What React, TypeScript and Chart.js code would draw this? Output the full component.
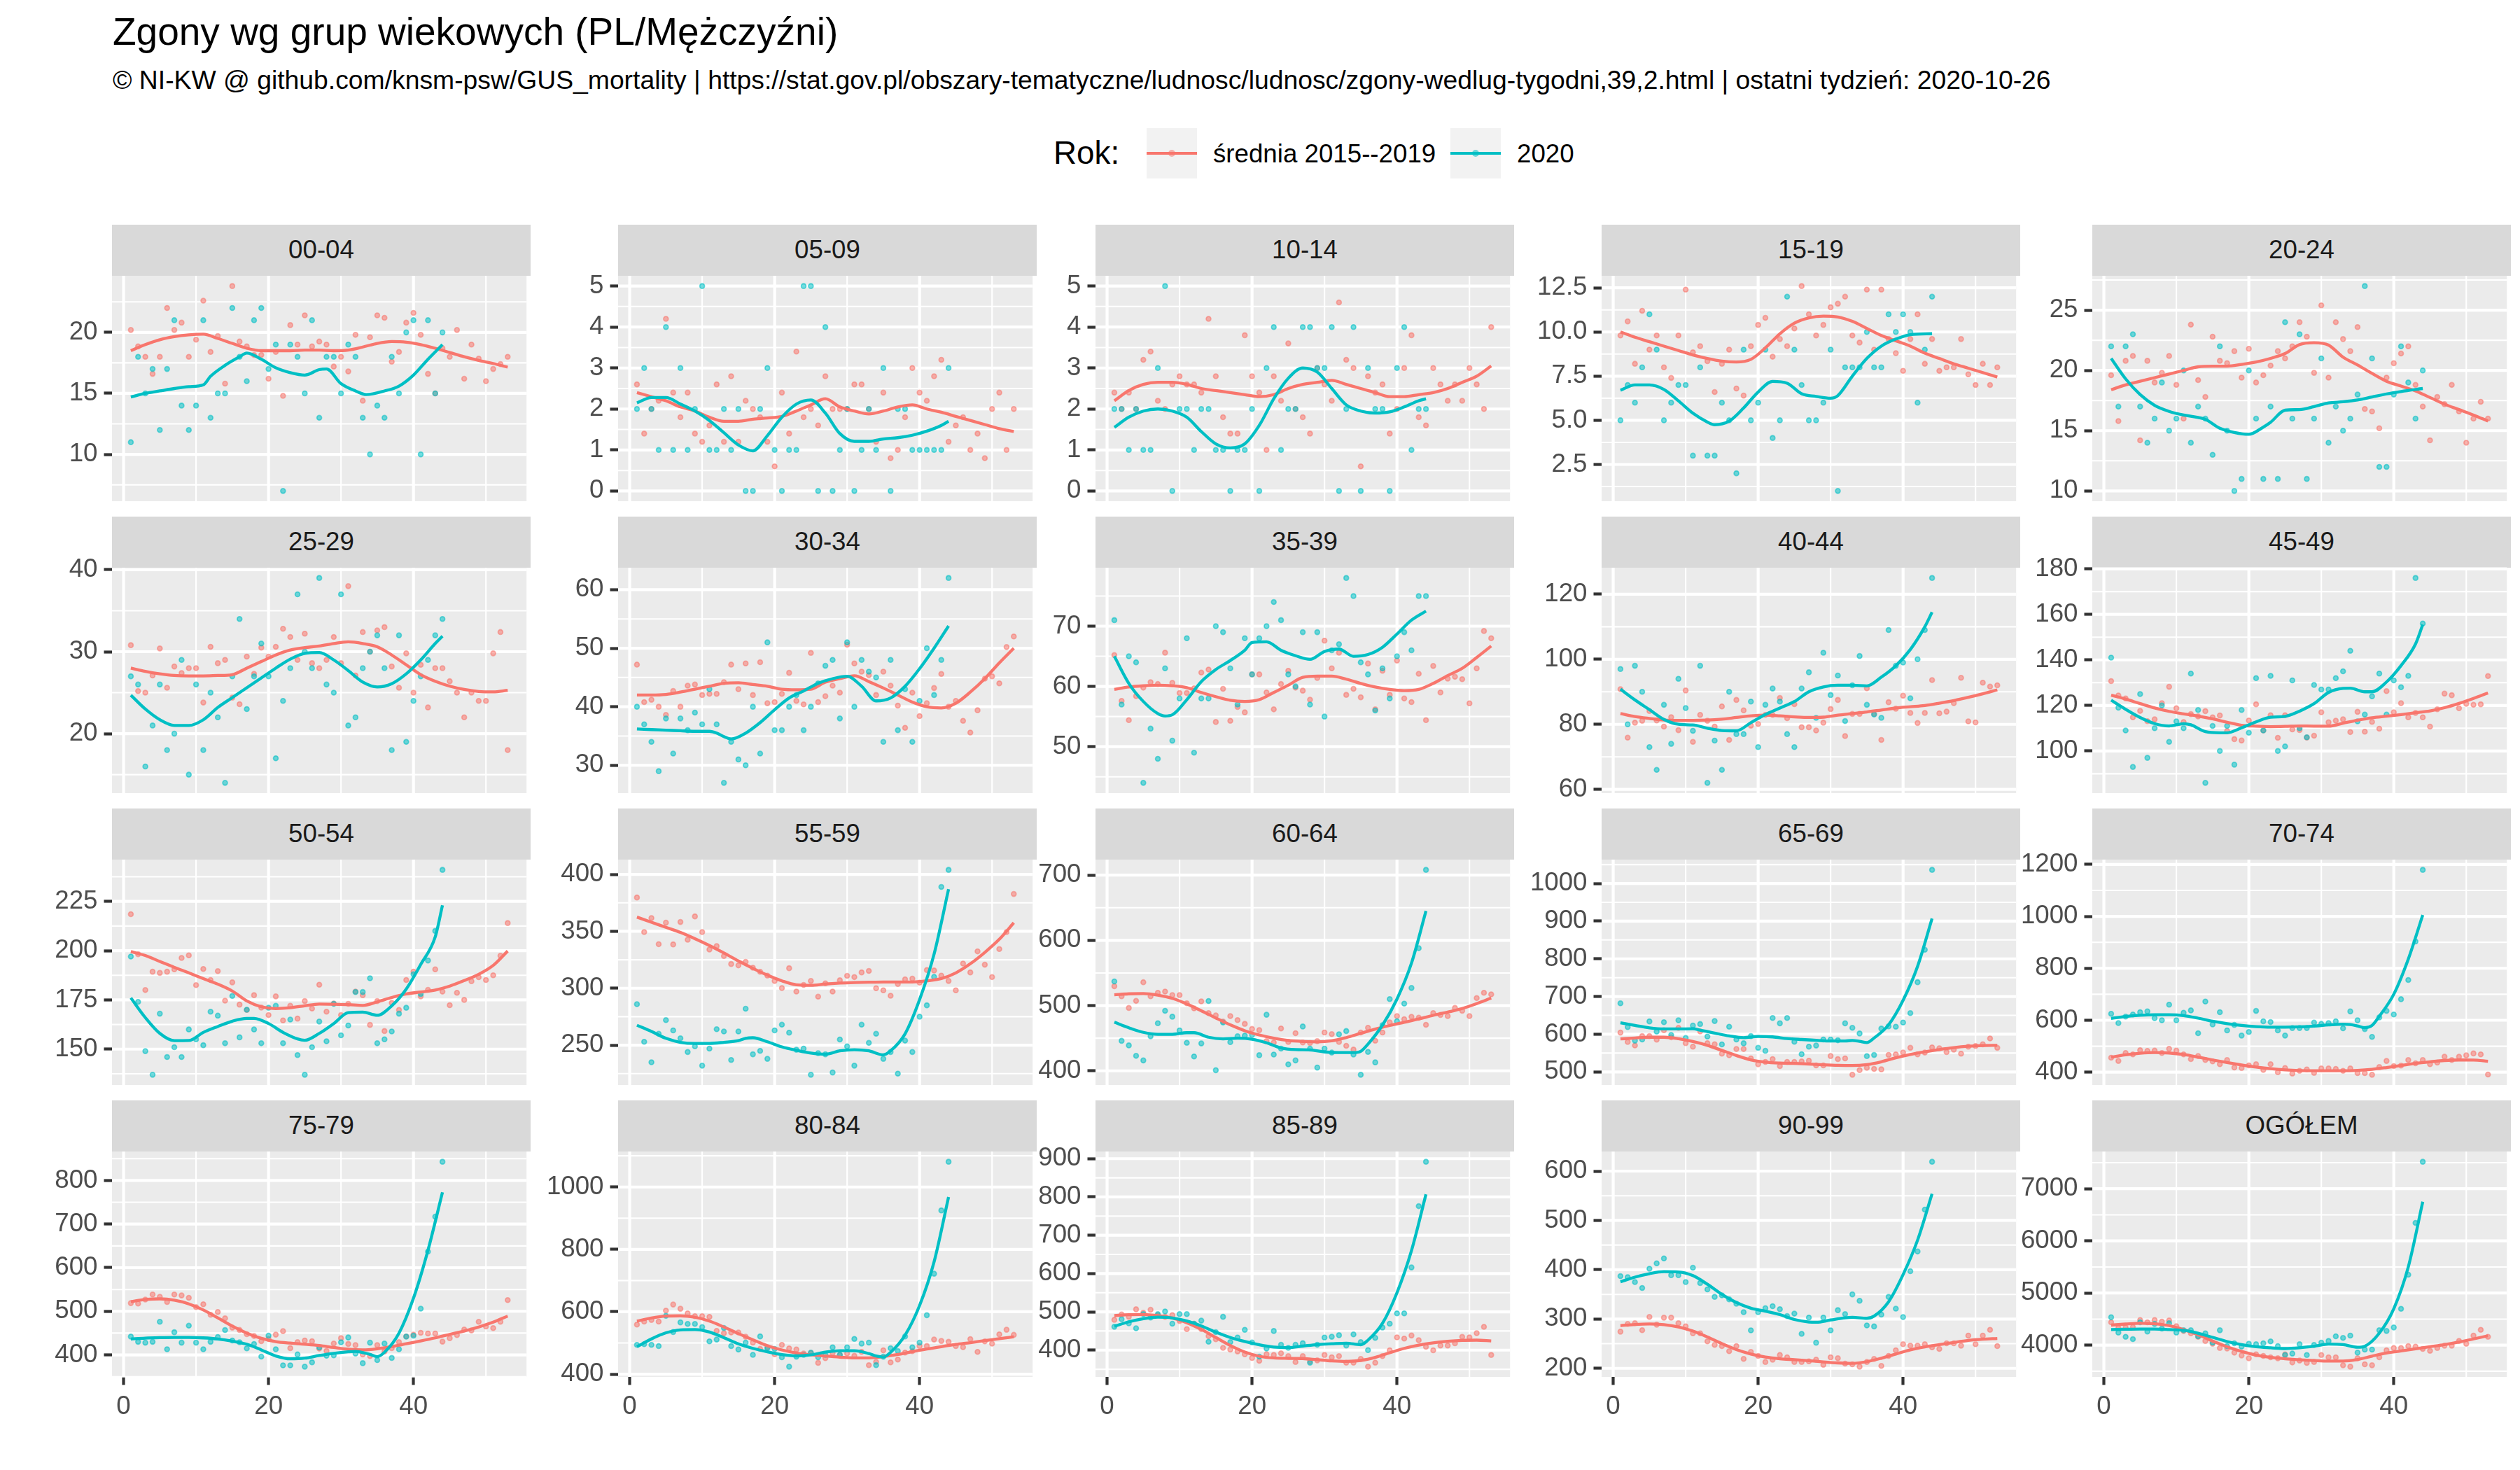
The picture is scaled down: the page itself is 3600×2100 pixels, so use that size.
import React, { useEffect, useRef } from 'react';
import { Chart, registerables } from 'chart.js';

Chart.register(...registerables);

// ---------------- DATA ----------------
const TITLE = 'Zgony wg grup wiekowych (PL/Mężczyźni)';
const SUBTITLE = '© NI-KW @ github.com/knsm-psw/GUS_mortality | https://stat.gov.pl/obszary-tematyczne/ludnosc/ludnosc/zgony-wedlug-tygodni,39,2.html | ostatni tydzień: 2020-10-26';
const LEGEND_TITLE = 'Rok:';
const SERIES_NAMES = ['średnia 2015--2019', '2020'];

const AGE_GROUPS = ['00-04', '05-09', '10-14', '15-19', '20-24', '25-29', '30-34', '35-39', '40-44', '45-49', '50-54', '55-59', '60-64', '65-69', '70-74', '75-79', '80-84', '85-89', '90-99', 'OGÓŁEM'];

const X_TICKS = [0, 20, 40];

const Y_TICK_LABELS: string[][] = [
  ['10', '15', '20'],
  ['0', '1', '2', '3', '4', '5'],
  ['0', '1', '2', '3', '4', '5'],
  ['2.5', '5.0', '7.5', '10.0', '12.5'],
  ['10', '15', '20', '25'],
  ['20', '30', '40'],
  ['30', '40', '50', '60'],
  ['50', '60', '70'],
  ['60', '80', '100', '120'],
  ['100', '120', '140', '160', '180'],
  ['150', '175', '200', '225'],
  ['250', '300', '350', '400'],
  ['400', '500', '600', '700'],
  ['500', '600', '700', '800', '900', '1000'],
  ['400', '600', '800', '1000', '1200'],
  ['400', '500', '600', '700', '800'],
  ['400', '600', '800', '1000'],
  ['400', '500', '600', '700', '800', '900'],
  ['200', '300', '400', '500', '600'],
  ['4000', '5000', '6000', '7000'],
];

// weekly deaths, average 2015-2019 (weeks 1..53)
const AVG_WEEKLY: number[][] = [
  [20.2, 18.85, 18.0, 16.6, 18.0, 22.0, 20.2, 20.8, 18.0, 19.4, 22.6, 18.4, 19.7, 15.8, 23.8, 19.25, 18.85, 18.15, 18.15, 16.2, 18.4, 14.8, 20.6, 19.0, 21.4, 18.85, 19.25, 19.0, 17.2, 18.0, 16.8, 19.8, 14.4, 19.6, 21.4, 21.2, 17.6, 18.4, 20.8, 21.6, 19.8, 16.6, 15.0, 18.7, 18.0, 20.2, 16.2, 19.0, 17.85, 16.0, 17.0, 17.4, 18.0],
  [2.6, 1.4, 2.0, 2.2, 4.2, 2.4, 1.8, 2.4, 1.4, 1.2, 1.6, 2.6, 1.2, 2.8, 1.2, 2.2, 2.0, 1.8, 1.2, 0.6, 2.4, 1.4, 3.4, 1.8, 2.0, 1.6, 2.8, 2.0, 2.0, 2.0, 2.6, 2.6, 2.0, 1.2, 2.4, 0.8, 1.0, 1.8, 3.0, 2.4, 2.2, 2.8, 3.2, 1.2, 1.6, 1.8, 1.0, 1.4, 0.8, 2.0, 2.4, 1.0, 2.0],
  [2.4, 2.0, 2.4, 2.0, 3.2, 3.4, 2.2, 2.0, 2.6, 2.8, 2.6, 2.6, 2.4, 4.2, 2.8, 1.8, 1.4, 1.4, 3.8, 2.8, 2.4, 1.0, 2.8, 2.2, 3.6, 2.0, 1.8, 1.4, 3.0, 2.6, 2.2, 4.6, 3.2, 3.0, 0.6, 2.8, 2.4, 2.6, 1.4, 2.0, 3.0, 3.8, 1.8, 1.6, 3.0, 2.6, 2.2, 2.6, 2.2, 3.0, 2.6, 2.0, 4.0],
  [9.8, 10.6, 8.2, 11.2, 9.0, 9.8, 8.0, 7.4, 9.8, 12.4, 8.85, 9.2, 8.35, 6.6, 8.2, 9.0, 6.8, 6.4, 9.2, 10.4, 10.8, 8.6, 9.6, 9.2, 10.2, 12.6, 11.0, 9.8, 10.4, 11.4, 11.6, 12.0, 9.8, 9.4, 12.4, 9.0, 12.4, 9.6, 8.8, 7.8, 9.6, 11.0, 8.2, 9.6, 7.8, 8.0, 8.0, 9.6, 7.6, 7.0, 8.2, 7.0, 8.0],
  [19.6, 15.8, 20.8, 21.2, 14.2, 20.8, 19.0, 19.8, 21.2, 18.8, 16.0, 23.8, 19.2, 17.8, 22.8, 20.8, 20.6, 21.6, 19.4, 21.8, 19.0, 19.6, 20.4, 21.6, 21.0, 22.0, 24.0, 22.8, 19.8, 25.4, 19.4, 24.0, 22.6, 21.6, 23.6, 16.8, 16.6, 15.2, 19.4, 20.6, 21.4, 22.0, 18.8, 17.0, 14.2, 17.8, 17.2, 18.8, 16.6, 14.0, 16.0, 17.4, 16.0],
  [30.8, 25.2, 25.0, 27.1, 30.4, 25.6, 28.2, 27.4, 28.0, 28.0, 23.8, 30.6, 28.6, 29.0, 24.4, 23.6, 29.4, 27.3, 30.5, 29.4, 30.6, 32.8, 31.8, 29.0, 32.2, 28.6, 28.0, 29.0, 31.8, 28.6, 38.0, 27.1, 32.4, 30.0, 32.6, 33.0, 28.2, 25.6, 29.8, 25.0, 28.4, 23.2, 28.0, 28.0, 26.4, 25.0, 22.0, 25.0, 24.0, 24.0, 29.8, 32.4, 18.0],
  [47.2, 40.8, 41.2, 40.0, 38.6, 42.7, 40.0, 43.6, 43.8, 42.0, 42.2, 42.2, 44.2, 47.2, 43.0, 47.4, 42.0, 47.6, 40.6, 40.8, 42.2, 45.8, 41.0, 40.4, 49.2, 40.8, 41.8, 43.6, 42.4, 50.6, 47.4, 46.0, 45.4, 42.0, 46.0, 43.6, 40.2, 36.4, 42.4, 38.4, 40.6, 43.2, 45.6, 40.0, 41.0, 37.6, 35.6, 39.4, 44.8, 45.2, 44.0, 50.2, 52.0],
  [65.2, 57.6, 54.4, 58.4, 59.8, 60.7, 60.4, 65.6, 60.6, 58.9, 58.9, 59.7, 62.3, 62.8, 54.1, 59.6, 54.3, 56.6, 55.7, 62.0, 62.0, 59.0, 56.2, 60.4, 62.6, 59.8, 59.3, 57.8, 61.4, 67.6, 63.0, 65.6, 58.6, 59.6, 58.2, 63.8, 56.2, 62.6, 58.6, 64.3, 58.0, 57.4, 62.1, 54.4, 63.4, 59.0, 61.3, 61.6, 61.2, 57.2, 63.0, 69.2, 68.0],
  [90.8, 75.9, 80.5, 81.1, 84.1, 81.2, 79.3, 82.2, 78.2, 90.4, 74.6, 82.9, 81.1, 79.3, 85.5, 75.2, 87.5, 84.3, 79.6, 80.1, 82.9, 82.9, 88.1, 81.9, 86.2, 79.1, 79.1, 78.1, 80.5, 84.7, 87.5, 76.4, 83.2, 83.2, 91.1, 83.2, 75.2, 86.8, 84.8, 88.8, 83.5, 80.4, 83.5, 93.6, 83.4, 83.9, 86.5, 94.3, 80.9, 80.6, 92.8, 91.6, 92.0],
  [130.7, 124.4, 123.1, 114.8, 117.6, 113.1, 113.9, 121.0, 128.2, 118.8, 112.7, 116.2, 115.2, 117.5, 114.8, 115.6, 108.8, 105.2, 104.6, 113.4, 120.5, 109.0, 115.7, 105.8, 115.7, 109.5, 109.2, 105.9, 106.7, 117.0, 112.6, 113.3, 113.9, 108.3, 117.2, 108.5, 112.8, 109.8, 126.3, 117.0, 121.0, 114.8, 116.7, 114.8, 110.7, 118.3, 125.2, 124.5, 118.8, 120.7, 120.3, 120.5, 132.9],
  [218.5, 198.2, 180.0, 189.3, 188.7, 189.3, 190.5, 196.3, 197.6, 182.5, 190.7, 185.1, 189.6, 174.6, 183.9, 172.6, 169.9, 177.4, 171.1, 167.3, 176.8, 164.6, 172.0, 165.5, 174.4, 170.6, 182.7, 169.0, 173.2, 167.3, 173.0, 179.2, 177.4, 162.3, 174.4, 159.2, 173.5, 169.9, 185.1, 189.3, 176.8, 180.1, 190.5, 179.2, 172.3, 178.6, 175.0, 184.5, 186.5, 185.1, 187.5, 197.4, 214.0],
  [379.7, 349.4, 361.7, 338.7, 357.6, 338.5, 358.2, 342.6, 363.1, 349.4, 334.0, 337.1, 328.3, 321.3, 320.1, 323.2, 318.0, 314.5, 311.1, 306.4, 300.2, 317.6, 297.1, 302.9, 306.4, 292.6, 304.3, 297.1, 307.0, 310.9, 309.8, 313.9, 315.2, 300.0, 298.2, 293.4, 303.7, 307.8, 308.4, 304.9, 316.0, 315.6, 311.1, 306.4, 298.2, 321.7, 313.9, 332.4, 320.7, 309.8, 334.4, 349.4, 382.8],
  [529.7, 514.3, 496.4, 507.2, 535.8, 514.3, 519.7, 521.5, 516.1, 516.1, 503.6, 495.7, 506.5, 488.5, 484.9, 475.6, 483.9, 477.8, 472.0, 464.2, 462.4, 445.5, 443.4, 464.9, 444.4, 457.7, 443.4, 442.7, 445.5, 458.8, 456.3, 444.4, 438.4, 432.6, 458.8, 466.0, 446.2, 458.8, 474.2, 483.9, 479.2, 482.8, 481.4, 470.6, 488.5, 485.7, 483.9, 496.4, 492.1, 483.9, 511.5, 519.7, 517.2],
  [604.4, 579.5, 570.2, 595.0, 595.0, 585.7, 610.6, 591.9, 616.8, 576.4, 567.1, 607.5, 576.4, 573.3, 548.4, 544.1, 560.8, 560.8, 536.0, 520.4, 526.7, 534.1, 515.5, 526.7, 526.7, 527.9, 529.8, 517.3, 517.3, 542.2, 534.1, 536.0, 492.5, 504.9, 511.1, 508.0, 506.8, 545.3, 546.6, 551.5, 564.0, 546.6, 551.5, 565.2, 562.7, 552.8, 559.0, 548.4, 567.1, 568.9, 573.3, 588.8, 564.0],
  [455.9, 443.3, 474.0, 468.5, 484.8, 482.1, 483.0, 474.0, 490.2, 483.0, 468.5, 450.5, 462.2, 446.9, 441.5, 430.7, 446.9, 418.0, 416.2, 426.2, 430.7, 409.0, 430.7, 400.0, 416.2, 394.6, 405.4, 410.8, 397.3, 414.4, 414.4, 412.6, 405.4, 414.4, 396.4, 396.4, 390.1, 419.8, 443.3, 423.4, 425.3, 446.9, 434.3, 446.9, 430.7, 437.0, 459.5, 446.9, 459.5, 464.9, 472.2, 468.5, 391.0],
  [518.7, 517.7, 526.8, 538.5, 533.2, 521.4, 538.5, 536.4, 531.0, 509.6, 516.1, 492.0, 498.4, 483.9, 462.5, 457.2, 447.5, 443.3, 431.5, 436.8, 446.5, 454.5, 415.5, 429.3, 433.1, 431.5, 414.4, 409.1, 426.1, 438.4, 425.1, 422.4, 401.0, 397.3, 422.4, 407.9, 415.5, 429.3, 442.2, 446.5, 450.7, 449.1, 449.1, 430.4, 438.4, 445.4, 458.2, 456.1, 475.9, 465.2, 461.5, 475.9, 525.7],
  [558.9, 568.6, 573.8, 568.6, 603.7, 623.2, 609.7, 594.8, 585.8, 585.8, 583.6, 538.7, 531.2, 533.5, 533.5, 520.0, 501.3, 481.1, 486.4, 463.9, 493.8, 482.6, 478.9, 466.2, 467.7, 436.3, 451.2, 467.7, 461.7, 466.2, 458.7, 471.4, 428.8, 439.3, 476.6, 437.8, 446.7, 469.2, 473.6, 490.1, 490.1, 511.0, 506.5, 503.6, 490.1, 486.4, 512.5, 471.4, 505.0, 497.6, 527.5, 542.4, 526.0],
  [479.2, 493.3, 487.1, 506.7, 497.6, 505.5, 491.4, 487.1, 491.4, 476.1, 454.7, 468.8, 454.7, 436.4, 428.4, 405.8, 401.5, 396.6, 389.2, 379.4, 372.1, 389.2, 387.4, 391.7, 384.3, 369.0, 384.3, 370.9, 373.3, 387.4, 381.3, 384.3, 367.2, 367.2, 377.0, 356.8, 367.2, 384.3, 399.6, 433.3, 430.2, 438.2, 426.0, 408.8, 399.6, 411.9, 411.9, 418.0, 434.5, 433.3, 444.3, 460.8, 387.4],
  [274.4, 290.1, 291.5, 277.3, 304.3, 288.6, 302.8, 302.8, 291.5, 285.3, 271.1, 271.1, 254.6, 247.5, 245.1, 234.7, 245.1, 219.1, 233.3, 225.2, 212.9, 217.6, 227.1, 222.4, 212.9, 212.9, 214.3, 217.6, 207.2, 222.4, 220.5, 209.6, 208.2, 203.4, 212.9, 219.1, 204.9, 225.2, 236.6, 248.9, 246.0, 246.0, 248.9, 242.7, 239.4, 250.8, 250.8, 246.0, 266.4, 248.9, 266.4, 278.2, 245.1],
  [4439, 4331, 4340, 4349, 4483, 4439, 4483, 4452, 4474, 4363, 4273, 4228, 4161, 4081, 4027, 3946, 3937, 3857, 3803, 3749, 3825, 3794, 3767, 3749, 3825, 3669, 3705, 3660, 3678, 3812, 3767, 3767, 3615, 3588, 3749, 3633, 3615, 3767, 3902, 3946, 3946, 3982, 3973, 3928, 3893, 3946, 3991, 3991, 4081, 4027, 4184, 4295, 4161],
];

// weekly deaths 2020 (weeks 1..44)
const Y2020_WEEKLY: number[][] = [
  [11, 18, 15, 17, 12, 17, 21, 14, 12, 14, 21, 13, 15, 15, 22, 18, 16, 21, 22, 17, 19, 7, 19, 18, 15, 21, 13, 18, 18, 15, 19, 18, 13, 10, 14, 13, 18, 15, 20, 21, 10, 21, 15, 20],
  [2, 3, 2, 1, 4, 1, 3, 1, 2, 5, 1, 1, 2, 1, 2, 0, 0, 2, 3, 1, 0, 1, 1, 5, 5, 0, 4, 0, 1, 2, 0, 1, 2, 1, 3, 0, 2, 2, 1, 1, 1, 1, 1, 3],
  [2, 2, 1, 2, 1, 1, 3, 5, 0, 2, 2, 1, 2, 2, 1, 1, 0, 1, 1, 2, 0, 3, 4, 1, 2, 2, 4, 4, 3, 3, 4, 0, 2, 4, 0, 3, 2, 2, 0, 3, 4, 1, 2, 2],
  [5, 7, 6, 8, 11, 9, 5, 6, 7, 7, 3, 8, 3, 3, 6, 5, 2, 9, 5, 6, 9, 4, 5, 12, 9, 7, 5, 5, 6, 9, 1, 8, 8, 8, 10, 8, 8, 11, 10, 11, 10, 6, 9, 12],
  [22, 17, 22, 23, 17, 14, 16, 19, 15, 16, 20, 14, 17, 16, 13, 22, 15, 10, 11, 20, 16, 11, 17, 11, 24, 16, 23, 11, 16, 21, 14, 17, 15, 16, 18, 27, 21, 12, 12, 18, 22, 19, 16, 20],
  [27, 26, 16, 21, 26, 18, 20, 29, 15, 26, 18, 25, 22, 14, 27, 34, 23, 27, 31, 27, 17, 24, 28, 37, 30, 28, 39, 26, 25, 37, 21, 22, 28, 30, 32, 28, 18, 32, 19, 24, 27, 29, 32, 34],
  [40, 37, 34, 29, 38, 32, 38, 36, 39, 37, 43, 37, 27, 34, 31, 30, 40, 32, 51, 36, 36, 40, 42, 36, 40, 44, 47, 48, 38, 51, 40, 48, 46, 45, 34, 48, 36, 43, 34, 41, 50, 42, 48, 62],
  [71, 57, 65, 64, 44, 53, 48, 63, 51, 58, 68, 49, 58, 58, 70, 69, 63, 57, 68, 62, 68, 70, 74, 71, 62, 60, 69, 57, 69, 55, 66, 67, 78, 75, 64, 62, 56, 63, 58, 65, 69, 66, 75, 75],
  [97, 80, 98, 90, 73, 66, 86, 74, 94, 85, 78, 98, 62, 75, 66, 90, 77, 77, 87, 73, 86, 91, 87, 77, 73, 91, 96, 82, 102, 89, 95, 81, 92, 101, 86, 83, 82, 109, 98, 99, 88, 100, 109, 125],
  [141, 119, 109, 93, 125, 97, 110, 120, 104, 113, 110, 134, 118, 86, 111, 100, 111, 94, 118, 108, 132, 109, 133, 100, 102, 131, 110, 106, 129, 127, 127, 132, 135, 144, 113, 116, 124, 134, 116, 131, 128, 133, 176, 156],
  [197, 174, 149, 137, 168, 146, 151, 146, 160, 155, 152, 169, 167, 153, 177, 156, 170, 160, 153, 171, 172, 153, 165, 147, 137, 151, 164, 154, 173, 157, 162, 179, 179, 186, 153, 155, 159, 168, 171, 188, 178, 195, 210, 241],
  [286, 253, 235, 260, 272, 263, 256, 244, 249, 232, 247, 264, 262, 237, 262, 282, 242, 245, 238, 263, 268, 261, 246, 247, 224, 243, 242, 226, 255, 249, 232, 268, 252, 260, 238, 244, 225, 254, 244, 275, 285, 310, 389, 404],
  [537, 446, 439, 423, 416, 453, 473, 492, 483, 462, 443, 422, 442, 507, 401, 474, 444, 453, 454, 455, 424, 486, 425, 434, 410, 416, 468, 434, 405, 434, 428, 456, 461, 425, 394, 429, 413, 470, 510, 476, 503, 527, 588, 708],
  [682, 619, 583, 586, 634, 607, 632, 598, 637, 590, 623, 627, 594, 635, 573, 620, 586, 576, 595, 564, 556, 643, 629, 643, 580, 547, 567, 570, 586, 586, 584, 629, 617, 602, 542, 545, 615, 621, 620, 631, 656, 738, 824, 1036],
  [625, 589, 614, 622, 631, 634, 608, 600, 660, 600, 629, 638, 550, 672, 584, 631, 561, 582, 541, 555, 636, 596, 593, 561, 541, 570, 570, 570, 591, 586, 589, 596, 569, 634, 600, 566, 536, 611, 636, 622, 681, 755, 903, 1179],
  [442, 430, 428, 430, 476, 413, 452, 428, 467, 428, 413, 430, 441, 457, 433, 429, 415, 425, 396, 444, 413, 376, 376, 401, 373, 383, 417, 398, 399, 429, 440, 403, 381, 428, 388, 426, 393, 413, 442, 444, 506, 637, 717, 843],
  [494, 496, 494, 490, 587, 535, 566, 561, 561, 551, 505, 511, 548, 490, 479, 501, 462, 521, 483, 481, 454, 424, 456, 462, 469, 454, 462, 486, 462, 486, 513, 498, 501, 429, 456, 483, 474, 521, 486, 501, 589, 722, 925, 1081],
  [461, 481, 470, 457, 494, 485, 494, 501, 469, 494, 494, 469, 477, 422, 447, 487, 421, 433, 453, 420, 383, 404, 450, 414, 406, 414, 418, 367, 414, 433, 435, 439, 412, 441, 421, 400, 432, 459, 469, 496, 496, 616, 776, 892],
  [387, 385, 375, 363, 402, 413, 423, 389, 389, 375, 404, 373, 360, 345, 348, 340, 331, 314, 277, 314, 322, 326, 320, 306, 311, 270, 303, 252, 303, 277, 318, 310, 350, 337, 287, 285, 309, 345, 321, 304, 397, 437, 522, 619],
  [4537, 4242, 4161, 4116, 4439, 4260, 4407, 4318, 4421, 4242, 4286, 4286, 4170, 4228, 4049, 4286, 3982, 4036, 3973, 4027, 4018, 4036, 4072, 3982, 3812, 3839, 4018, 3812, 4004, 4049, 4081, 4170, 4139, 4184, 3857, 3915, 3915, 4286, 4273, 4340, 4698, 5352, 6346, 7518],
];

// smoothed trend of the 2015-2019 average, read at odd weeks
const SMOOTH_AVG_WEEKS = [1, 3, 5, 7, 9, 11, 13, 15, 17, 19, 21, 23, 25, 27, 29, 31, 33, 35, 37, 39, 41, 43, 45, 47, 49, 51, 53];
const SMOOTH_AVG: number[][] = [
  [18.5, 19.0, 19.4, 19.65, 19.8, 19.85, 19.5, 19.1, 18.7, 18.5, 18.5, 18.5, 18.55, 18.55, 18.5, 18.55, 18.8, 19.1, 19.25, 19.2, 19.0, 18.7, 18.35, 18.0, 17.7, 17.45, 17.15],
  [2.4, 2.3, 2.2, 2.05, 1.95, 1.8, 1.7, 1.7, 1.75, 1.78, 1.82, 1.95, 2.1, 2.25, 2.05, 1.95, 1.88, 1.95, 2.05, 2.1, 2.0, 1.92, 1.82, 1.72, 1.62, 1.52, 1.45],
  [2.2, 2.45, 2.6, 2.65, 2.65, 2.6, 2.5, 2.45, 2.4, 2.35, 2.3, 2.35, 2.5, 2.6, 2.65, 2.7, 2.6, 2.5, 2.4, 2.3, 2.3, 2.35, 2.4, 2.5, 2.65, 2.8, 3.05],
  [10.0, 9.7, 9.45, 9.2, 8.95, 8.7, 8.5, 8.35, 8.3, 8.45, 9.1, 9.9, 10.5, 10.8, 10.9, 10.85, 10.6, 10.2, 9.8, 9.5, 9.2, 8.8, 8.5, 8.2, 7.95, 7.7, 7.45],
  [18.4, 18.8, 19.1, 19.4, 19.7, 20.0, 20.3, 20.35, 20.35, 20.5, 20.7, 21.0, 21.4, 22.15, 22.3, 22.1, 21.1, 20.45, 19.75, 19.1, 18.7, 18.3, 17.75, 17.2, 16.75, 16.3, 15.8],
  [28.0, 27.6, 27.3, 27.1, 27.05, 27.05, 27.1, 27.2, 28.0, 28.8, 29.6, 30.2, 30.5, 30.7, 31.0, 31.2, 31.0, 30.6, 29.6, 28.4, 27.2, 26.4, 25.8, 25.4, 25.15, 25.1, 25.3],
  [42.0, 42.0, 42.1, 42.5, 43.0, 43.5, 44.0, 44.1, 43.8, 43.5, 43.0, 42.9, 43.0, 44.2, 44.8, 45.3, 44.3, 43.2, 42.0, 40.8, 40.0, 39.8, 40.6, 42.5, 44.8, 47.5, 50.0],
  [59.5, 59.9, 60.1, 60.2, 60.1, 59.8, 59.0, 58.3, 57.7, 57.5, 57.8, 59.0, 60.2, 61.5, 61.7, 61.7, 61.2, 60.5, 59.9, 59.5, 59.3, 59.5, 60.5, 61.8, 63.0, 64.8, 66.7],
  [83.3, 82.4, 81.8, 81.3, 81.2, 81.2, 81.3, 81.6, 82.1, 82.6, 82.8, 82.6, 82.3, 82.1, 82.2, 82.8, 83.3, 83.8, 84.4, 85.0, 85.4, 85.8, 86.5, 87.3, 88.3, 89.4, 90.6],
  [124.5, 122.8, 120.8, 118.9, 117.4, 116.3, 115.3, 114.1, 112.6, 111.3, 110.9, 110.7, 110.8, 111.0, 110.9, 110.9, 112.2, 113.5, 114.6, 115.3, 116.0, 116.8, 117.6, 119.0, 120.9, 123.1, 125.5],
  [199.5, 197.5, 194.5, 191.5, 188.7, 185.8, 183.0, 179.5, 174.5, 171.5, 170.6, 171.0, 172.0, 172.9, 172.8, 172.6, 172.2, 174.0, 176.2, 178.0, 179.0, 180.0, 182.0, 184.8, 188.0, 192.5, 199.8],
  [362.5, 358.0, 353.5, 349.0, 343.5, 337.5, 331.0, 324.0, 317.5, 311.5, 306.5, 303.0, 302.5, 303.7, 304.5, 305.0, 305.3, 305.5, 305.5, 305.5, 306.5, 308.5, 313.5, 321.5, 331.5, 343.0, 357.5],
  [516.5, 518.0, 518.5, 516.0, 511.0, 502.5, 492.0, 481.0, 470.5, 461.5, 455.0, 450.0, 446.5, 445.0, 444.5, 446.0, 451.0, 457.5, 464.0, 469.5, 474.5, 479.5, 485.0, 490.0, 495.5, 503.0, 511.5],
  [587.5, 590.0, 592.0, 592.0, 588.0, 580.5, 570.5, 557.0, 543.5, 532.0, 526.0, 523.5, 522.5, 521.0, 519.0, 517.5, 517.0, 519.5, 527.0, 537.5, 546.5, 553.5, 559.5, 564.5, 568.0, 570.0, 570.5],
  [458.0, 467.0, 473.0, 475.5, 474.0, 468.0, 458.0, 447.0, 437.0, 428.0, 420.0, 413.5, 409.0, 406.5, 405.5, 405.5, 405.5, 407.0, 411.0, 418.0, 426.0, 434.0, 440.0, 445.0, 447.0, 446.5, 442.0],
  [522.0, 527.0, 528.5, 525.5, 517.0, 503.0, 485.0, 466.0, 450.0, 438.0, 430.5, 427.0, 424.5, 421.5, 417.0, 413.0, 411.5, 414.0, 419.0, 425.5, 432.0, 439.0, 447.0, 455.0, 464.0, 475.0, 489.0],
  [570.0, 580.0, 586.0, 587.0, 582.5, 570.0, 551.0, 530.0, 510.0, 491.0, 477.5, 468.0, 462.0, 458.0, 454.5, 452.0, 452.0, 456.0, 463.0, 472.0, 480.5, 488.0, 495.0, 501.0, 507.5, 513.5, 520.0],
  [490.0, 492.5, 493.0, 490.0, 484.0, 471.5, 454.0, 433.0, 412.0, 395.0, 384.0, 379.5, 378.5, 378.0, 375.0, 372.0, 370.5, 373.0, 381.0, 393.0, 404.5, 413.0, 419.0, 423.0, 425.5, 426.0, 424.0],
  [286.5, 289.0, 290.0, 288.5, 284.0, 275.5, 263.5, 250.0, 238.0, 229.0, 223.0, 219.5, 217.5, 215.5, 213.0, 211.0, 210.0, 213.5, 220.5, 229.0, 237.5, 243.5, 248.0, 252.5, 256.5, 259.0, 260.5],
  [4385, 4405, 4420, 4410, 4375, 4300, 4200, 4080, 3970, 3880, 3810, 3765, 3740, 3720, 3705, 3695, 3695, 3725, 3790, 3850, 3890, 3930, 3970, 4010, 4060, 4120, 4180],
];

// smoothed trend of 2020 as [week, value] pairs
const SMOOTH_2020: number[][][] = [
  [[1, 14.7], [3, 15.0], [5, 15.2], [7, 15.4], [9, 15.55], [11, 15.7], [12, 16.4], [14, 17.3], [16, 18.0], [17, 18.3], [19, 17.8], [21, 17.1], [23, 16.7], [25, 16.5], [27, 16.95], [28, 17.0], [30, 15.8], [32, 15.2], [33.5, 14.9], [36, 15.2], [38, 15.6], [40, 16.5], [42, 17.8], [44, 19.0]],
  [[1, 2.15], [3, 2.28], [5, 2.28], [7, 2.12], [9, 1.95], [11, 1.72], [13, 1.42], [15, 1.12], [17, 0.98], [19, 1.35], [21, 1.8], [23, 2.12], [25, 2.22], [27, 1.9], [29, 1.4], [31, 1.21], [33, 1.21], [35, 1.27], [37, 1.3], [39, 1.36], [41, 1.46], [43, 1.6], [44, 1.7]],
  [[1, 1.55], [3, 1.8], [5, 1.95], [7, 2.0], [9, 1.95], [11, 1.8], [13, 1.45], [15, 1.15], [17, 1.05], [19, 1.15], [21, 1.6], [23, 2.25], [25, 2.75], [27, 3.0], [29, 2.9], [31, 2.5], [33, 2.1], [35, 1.95], [37, 1.9], [39, 1.93], [41, 2.05], [43, 2.2], [44, 2.25]],
  [[1, 6.7], [3, 7.0], [5, 7.0], [7, 6.75], [9, 6.1], [11, 5.4], [13, 4.9], [14, 4.75], [16, 4.95], [18, 5.7], [20, 6.6], [22, 7.2], [24, 7.1], [26, 6.5], [28, 6.35], [30, 6.25], [31, 6.4], [33, 7.5], [35, 8.5], [37, 9.2], [39, 9.6], [41, 9.85], [44, 9.9]],
  [[1, 21.0], [3, 19.3], [5, 18.0], [7, 17.1], [9, 16.6], [11, 16.3], [13, 16.1], [14, 15.95], [16, 15.2], [18, 14.85], [20, 14.7], [22, 15.3], [23, 15.7], [25, 16.7], [27, 16.75], [29, 17.0], [31, 17.3], [33, 17.4], [35, 17.55], [37, 17.8], [39, 18.05], [41, 18.25], [44, 18.5]],
  [[1, 24.7], [3, 23.0], [5, 21.7], [7, 21.0], [9, 21.0], [11, 21.7], [13, 23.2], [15, 24.4], [17, 25.6], [19, 26.8], [21, 28.0], [23, 29.1], [25, 29.8], [27, 29.9], [29, 29.0], [31, 27.7], [33, 26.3], [35, 25.7], [37, 26.1], [39, 27.3], [41, 29.0], [43, 31.0], [44, 31.9]],
  [[1, 36.2], [3, 36.1], [5, 36.0], [7, 35.9], [9, 35.8], [11, 35.8], [12, 35.5], [13, 34.9], [14, 34.5], [16, 35.5], [18, 37.3], [20, 39.5], [22, 41.5], [24, 42.7], [26, 44.0], [28, 44.8], [30, 45.2], [32, 43.5], [34, 41.0], [36, 41.5], [38, 43.5], [40, 46.5], [42, 50.0], [44, 53.8]],
  [[1, 65.0], [3, 60.5], [5, 57.5], [7, 55.5], [8, 55.1], [9, 55.3], [11, 57.8], [13, 60.8], [15, 62.8], [17, 64.3], [19, 66.0], [20, 67.3], [22, 67.4], [24, 66.0], [26, 65.1], [28, 64.5], [30, 65.8], [32, 66.2], [34, 65.0], [36, 65.3], [38, 66.5], [40, 68.7], [42, 71.0], [44, 72.5]],
  [[1, 90.8], [3, 87.5], [5, 84.5], [7, 81.5], [9, 80.0], [11, 79.8], [13, 78.8], [15, 78.1], [17, 78.0], [19, 80.5], [21, 83.0], [23, 85.0], [25, 87.0], [27, 90.0], [29, 91.5], [31, 92.0], [33, 92.0], [35, 91.8], [37, 94.5], [39, 98.0], [41, 103.0], [43, 110.0], [44, 114.5]],
  [[1, 122.3], [3, 118.3], [5, 114.7], [7, 112.0], [9, 111.0], [11, 112.0], [12, 111.5], [14, 108.5], [16, 108.0], [17, 108.0], [19, 110.2], [21, 112.8], [23, 114.8], [25, 115.2], [27, 117.5], [29, 120.8], [31, 125.7], [33, 127.5], [34, 127.6], [36, 126.0], [37, 126.0], [39, 130.3], [41, 137.5], [43, 147.0], [44, 155.5]],
  [[1, 176.0], [3, 166.0], [5, 158.0], [7, 154.3], [9, 154.4], [11, 158.5], [13, 161.5], [15, 164.2], [17, 165.6], [18, 165.6], [20, 163.0], [22, 158.5], [24, 155.2], [25, 154.5], [27, 158.0], [29, 163.0], [31, 168.5], [33, 168.8], [35, 167.2], [37, 172.0], [39, 180.5], [41, 193.0], [43, 207.0], [44, 223.0]],
  [[1, 267.5], [3, 262.0], [5, 256.0], [7, 252.5], [9, 251.5], [11, 251.5], [13, 252.5], [15, 254.0], [16, 256.0], [17, 256.5], [19, 253.0], [21, 248.5], [23, 245.5], [25, 243.0], [27, 242.0], [29, 245.0], [31, 246.0], [33, 245.0], [35, 241.5], [36, 245.0], [38, 260.0], [40, 290.0], [42, 330.0], [44, 387.0]],
  [[1, 474.5], [3, 466.0], [5, 459.0], [7, 456.0], [9, 456.0], [11, 458.5], [12, 458.5], [14, 451.5], [16, 449.0], [18, 450.0], [20, 448.5], [22, 443.0], [24, 435.0], [26, 432.5], [28, 432.0], [30, 429.0], [32, 428.0], [34, 428.0], [35, 430.0], [36, 441.0], [38, 470.0], [40, 510.0], [42, 565.0], [44, 645.0]],
  [[1, 630.5], [3, 623.5], [5, 617.0], [7, 614.0], [9, 614.0], [11, 614.5], [12, 611.0], [14, 603.0], [16, 595.5], [18, 591.0], [20, 594.0], [22, 593.0], [24, 588.5], [26, 586.0], [28, 584.0], [30, 582.0], [32, 582.0], [33, 583.5], [34, 581.0], [35, 578.0], [36, 590.0], [38, 625.0], [40, 690.0], [42, 780.0], [44, 907.0]],
  [[1, 607.0], [3, 614.5], [5, 619.0], [7, 621.0], [9, 621.0], [11, 618.0], [13, 608.0], [15, 596.0], [17, 587.0], [19, 580.0], [21, 575.5], [23, 573.5], [25, 573.5], [27, 574.5], [29, 577.5], [31, 582.0], [33, 585.0], [34, 583.5], [35, 578.0], [36, 571.0], [37, 580.0], [38, 615.0], [40, 700.0], [42, 835.0], [44, 1005.0]],
  [[1, 436.5], [3, 438.5], [5, 439.5], [7, 440.0], [9, 440.0], [11, 439.0], [13, 436.5], [15, 431.5], [17, 424.5], [19, 411.5], [21, 397.5], [23, 391.0], [25, 392.5], [27, 398.5], [29, 403.5], [31, 407.0], [32, 408.0], [34, 401.0], [35, 396.0], [36, 406.0], [38, 450.0], [40, 530.0], [42, 640.0], [44, 773.0]],
  [[1, 488.0], [3, 513.0], [5, 532.5], [7, 542.0], [9, 543.0], [11, 535.0], [13, 517.0], [15, 497.0], [17, 482.5], [19, 471.5], [21, 462.5], [23, 458.5], [25, 462.0], [27, 470.5], [29, 475.0], [31, 475.0], [33, 466.0], [34, 458.0], [35, 455.0], [36, 470.0], [38, 525.0], [40, 620.0], [42, 760.0], [44, 968.0]],
  [[1, 462.0], [3, 474.0], [5, 482.0], [7, 486.0], [9, 484.0], [11, 476.0], [13, 463.0], [15, 447.0], [17, 433.0], [19, 422.5], [21, 414.0], [23, 408.0], [25, 406.5], [27, 410.5], [29, 414.5], [31, 416.5], [33, 418.0], [35, 414.0], [36, 426.0], [38, 470.0], [40, 550.0], [42, 660.0], [44, 807.0]],
  [[1, 375.5], [3, 385.0], [5, 392.0], [7, 396.0], [9, 395.5], [11, 388.0], [13, 370.5], [15, 350.0], [17, 333.5], [19, 322.0], [21, 316.0], [23, 309.0], [25, 299.0], [27, 294.0], [28, 293.5], [30, 298.0], [32, 302.5], [33, 303.5], [35, 301.5], [36, 306.0], [38, 335.0], [40, 390.0], [42, 460.0], [44, 554.0]],
  [[1, 4300], [3, 4305], [5, 4310], [7, 4310], [9, 4300], [11, 4285], [13, 4230], [15, 4150], [17, 4070], [19, 4010], [21, 3970], [23, 3950], [25, 3935], [27, 3950], [29, 3980], [31, 4020], [33, 4010], [35, 3960], [36, 3980], [38, 4230], [40, 4700], [42, 5500], [44, 6750]],
];

// ---------------- STYLE / LAYOUT ----------------
const FONT = '"Liberation Sans", Arial, Helvetica, sans-serif';
const RED = '#F8766D';
const CYAN = '#00BFC4';
const RED_PT = 'rgba(248,118,109,0.55)';
const CYAN_PT = 'rgba(0,191,196,0.55)';
const PANEL_BG = '#EBEBEB';
const STRIP_BG = '#D9D9D9';
const STRIP_TEXT = '#1A1A1A';
const AXIS_TEXT = '#4D4D4D';
const TICK_COLOR = '#333333';

const COL_LEFT = [160, 883, 1565, 2288, 2989];
const STRIP_TOP = [321, 738, 1155, 1572];
const PANEL_W = 598;
const PANEL_H = 322;
const STRIP_H = 73;
const AXIS_W = 130;
const XAXIS_H = 75;
const CANVAS_PAD = 30;
const AXIS_FS = 36.7;
const TICK_LEN = 11.5;
const TICK_W = 4.2;
const TICK_PAD = 9;
const MAJOR_W = 4.2;
const MINOR_W = 2.1;
const LINE_W = 4.3;
const X_MIN = -1.6;
const X_MAX = 55.6;

function minorBreaks(major: number[], lo: number, hi: number): number[] {
  if (major.length < 2) return [];
  const step = major[1] - major[0];
  const out: number[] = [];
  for (let i = -1; i < major.length; i++) {
    const v = (i < 0 ? major[0] - step : major[i]) + step / 2;
    if (v > lo && v < hi) out.push(v);
  }
  return out;
}

const ggPanelPlugin = {
  id: 'ggPanel',
  beforeDatasetsDraw(chart: any, _args: any, opts: any) {
    const { ctx, chartArea: a, scales } = chart;
    const xs = scales.x;
    const ys = scales.y;
    ctx.save();
    ctx.fillStyle = PANEL_BG;
    ctx.fillRect(a.left, a.top, a.right - a.left, a.bottom - a.top);
    ctx.strokeStyle = '#FFFFFF';
    const vline = (vals: number[], w: number) => {
      ctx.lineWidth = w;
      vals.forEach((v) => {
        const p = xs.getPixelForValue(v);
        if (p < a.left || p > a.right) return;
        ctx.beginPath();
        ctx.moveTo(p, a.top);
        ctx.lineTo(p, a.bottom);
        ctx.stroke();
      });
    };
    const hline = (vals: number[], w: number) => {
      ctx.lineWidth = w;
      vals.forEach((v) => {
        const p = ys.getPixelForValue(v);
        if (p < a.top || p > a.bottom) return;
        ctx.beginPath();
        ctx.moveTo(a.left, p);
        ctx.lineTo(a.right, p);
        ctx.stroke();
      });
    };
    const xMaj: number[] = opts.xMajor;
    const yMaj: number[] = opts.yMajor;
    vline(minorBreaks(xMaj, xs.min, xs.max), MINOR_W);
    hline(minorBreaks(yMaj, ys.min, ys.max), MINOR_W);
    vline(xMaj, MAJOR_W);
    hline(yMaj, MAJOR_W);
    ctx.restore();
  },
};

function Panel({ idx }: { idx: number }) {
  const ref = useRef<HTMLCanvasElement>(null);
  const row = Math.floor(idx / 5);
  const col = idx % 5;
  const bottom = row === 3;
  const left = COL_LEFT[col] - AXIS_W;
  const top = STRIP_TOP[row] + STRIP_H - CANVAS_PAD;
  const width = AXIS_W + PANEL_W;
  const height = CANVAS_PAD + PANEL_H + (bottom ? XAXIS_H : CANVAS_PAD);

  useEffect(() => {
    const avg = AVG_WEEKLY[idx].map((v, k) => ({ x: k + 1, y: v }));
    const cur = Y2020_WEEKLY[idx].map((v, k) => ({ x: k + 1, y: v }));
    const sAvg = SMOOTH_AVG[idx].map((v, k) => ({ x: SMOOTH_AVG_WEEKS[k], y: v }));
    const sCur = SMOOTH_2020[idx].map((p) => ({ x: p[0], y: p[1] }));
    const ys = [...avg, ...cur, ...sAvg, ...sCur].map((p) => p.y);
    const lo = Math.min(...ys);
    const hi = Math.max(...ys);
    const pad = (hi - lo) * 0.05;
    const labels = Y_TICK_LABELS[idx];
    const yTicks = labels.map(Number);

    const chart = new Chart(ref.current as HTMLCanvasElement, {
      type: 'scatter',
      data: {
        datasets: [
          { type: 'line', data: sCur, borderColor: CYAN, borderWidth: LINE_W, pointRadius: 0, cubicInterpolationMode: 'monotone', fill: false } as any,
          { type: 'line', data: sAvg, borderColor: RED, borderWidth: LINE_W, pointRadius: 0, cubicInterpolationMode: 'monotone', fill: false } as any,
          { data: cur, backgroundColor: CYAN_PT, borderColor: CYAN_PT, borderWidth: 1.8, pointRadius: 3.4 },
          { data: avg, backgroundColor: RED_PT, borderColor: RED_PT, borderWidth: 1.8, pointRadius: 3.4 },
        ],
      },
      options: {
        animation: false,
        responsive: false,
        maintainAspectRatio: false,
        devicePixelRatio: 1,
        events: [],
        layout: { padding: { top: CANVAS_PAD, bottom: bottom ? 0 : CANVAS_PAD, left: 0, right: 0 } },
        plugins: {
          legend: { display: false },
          tooltip: { enabled: false },
          ggPanel: { xMajor: X_TICKS, yMajor: yTicks },
        } as any,
        scales: {
          x: {
            type: 'linear',
            min: X_MIN,
            max: X_MAX,
            bounds: 'data',
            display: bottom,
            afterBuildTicks: (s: any) => { s.ticks = X_TICKS.map((v) => ({ value: v })); },
            afterFit: (s: any) => {
              if (bottom) s.height = XAXIS_H;
              s.paddingLeft = 0; s.paddingRight = 0;
            },
            grid: { drawOnChartArea: false, drawTicks: true, tickLength: TICK_LEN, tickWidth: TICK_W, tickColor: TICK_COLOR },
            border: { display: false },
            ticks: {
              font: { family: FONT, size: AXIS_FS },
              color: AXIS_TEXT,
              padding: TICK_PAD,
              autoSkip: false,
              maxRotation: 0,
              callback: (v: any) => String(v),
            },
          },
          y: {
            type: 'linear',
            min: lo - pad,
            max: hi + pad,
            bounds: 'data',
            afterBuildTicks: (s: any) => { s.ticks = yTicks.map((v) => ({ value: v })); },
            afterFit: (s: any) => { s.width = AXIS_W; s.paddingTop = 0; s.paddingBottom = 0; },
            grid: { drawOnChartArea: false, drawTicks: true, tickLength: TICK_LEN, tickWidth: TICK_W, tickColor: TICK_COLOR },
            border: { display: false },
            ticks: {
              font: { family: FONT, size: AXIS_FS },
              color: AXIS_TEXT,
              padding: TICK_PAD,
              autoSkip: false,
              callback: (v: any) => {
                const k = yTicks.indexOf(Number(v));
                return k >= 0 ? labels[k] : String(v);
              },
            },
          },
        } as any,
      },
      plugins: [ggPanelPlugin as any],
    });
    return () => chart.destroy();
  }, [idx]);

  return (
    <>
      <div
        style={{
          position: 'absolute', left: COL_LEFT[col], top: STRIP_TOP[row], width: PANEL_W, height: STRIP_H,
          background: STRIP_BG, color: STRIP_TEXT, fontSize: AXIS_FS, lineHeight: 1,
          display: 'flex', alignItems: 'center', justifyContent: 'center',
        }}
      >
        {AGE_GROUPS[idx]}
      </div>
      <canvas ref={ref} width={width} height={height} style={{ position: 'absolute', left, top, width, height }} />
    </>
  );
}

function LegendKey({ left, color, fill }: { left: number; color: string; fill: string }) {
  const size = 72;
  return (
    <div style={{ position: 'absolute', left, top: 219 - size / 2, width: size, height: size, background: '#F2F2F2' }}>
      <div style={{ position: 'absolute', left: 0, top: size / 2 - LINE_W / 2, width: size, height: LINE_W, background: color }} />
      <div style={{ position: 'absolute', left: size / 2 - 5, top: size / 2 - 5, width: 10, height: 10, borderRadius: '50%', background: fill }} />
    </div>
  );
}

export default function App() {
  return (
    <div style={{ position: 'absolute', left: 0, top: 0, width: 3600, height: 2100, background: '#FFFFFF', fontFamily: FONT, overflow: 'hidden' }}>
      <div style={{ position: 'absolute', left: 161, top: 18, fontSize: 55, lineHeight: '55px', color: '#000', whiteSpace: 'nowrap' }}>{TITLE}</div>
      <div style={{ position: 'absolute', left: 161, top: 96, fontSize: 37.3, lineHeight: '37px', color: '#000', whiteSpace: 'nowrap' }}>{SUBTITLE}</div>

      <div style={{ position: 'absolute', left: 1505, top: 219 - 23, fontSize: 45.8, lineHeight: '46px', color: '#000', whiteSpace: 'nowrap' }}>{LEGEND_TITLE}</div>
      <LegendKey left={1638} color={RED} fill={RED_PT} />
      <div style={{ position: 'absolute', left: 1733, top: 219 - 18, fontSize: AXIS_FS, lineHeight: '37px', color: '#000', whiteSpace: 'nowrap' }}>{SERIES_NAMES[0]}</div>
      <LegendKey left={2072} color={CYAN} fill={CYAN_PT} />
      <div style={{ position: 'absolute', left: 2167, top: 219 - 18, fontSize: AXIS_FS, lineHeight: '37px', color: '#000', whiteSpace: 'nowrap' }}>{SERIES_NAMES[1]}</div>

      {AGE_GROUPS.map((_, i) => (
        <Panel key={i} idx={i} />
      ))}
    </div>
  );
}
